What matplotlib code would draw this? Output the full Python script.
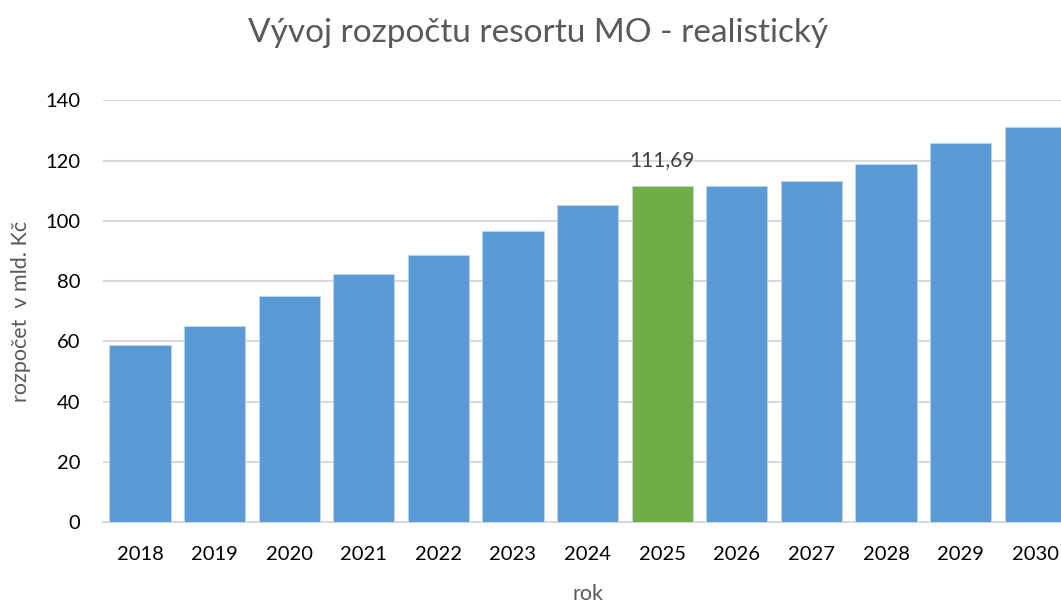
import matplotlib
matplotlib.use("Agg")
import matplotlib.pyplot as plt

years = ["2018", "2019", "2020", "2021", "2022", "2023", "2024",
         "2025", "2026", "2027", "2028", "2029", "2030"]
budget = [58.7, 65.0, 75.1, 82.2, 88.5, 96.5, 105.1,
          111.69, 111.6, 113.2, 119.0, 125.7, 131.0]
highlight_year = "2025"
highlight_label = "111,69"
y_ticks = [0, 20, 40, 60, 80, 100, 120, 140]

plt.rcParams['font.family'] = ['Lato', 'DejaVu Sans']

fig = plt.figure(figsize=(10.61, 6.03), dpi=100)
ax = fig.add_axes([102.7 / 1061, 0.1338, 13 * 74.6 / 1061, 0.700])

colors = ["#70AD47" if y == highlight_year else "#5B9BD5" for y in years]
x = list(range(len(years)))
ax.bar(x, budget, width=0.82, color=colors, edgecolor="#BDD7EE", linewidth=0.6, zorder=3)

ax.set_xlim(-0.5, len(years) - 0.5)
ax.set_ylim(0, 140)
ax.set_yticks(y_ticks)
ax.set_xticks(x)
ax.set_xticklabels(years)
ax.grid(axis="y", color="#D9D9D9", linewidth=1.5, zorder=0)
for s in ["top", "right", "left"]:
    ax.spines[s].set_visible(False)
ax.spines["bottom"].set_color("#D9D9D9")
ax.spines["bottom"].set_linewidth(1.5)
ax.tick_params(axis="both", length=0, labelsize=14.5, colors="#000000")
ax.tick_params(axis="x", pad=17)
ax.tick_params(axis="y", pad=16)

hi = years.index(highlight_year)
ax.text(hi, budget[hi] + 5, highlight_label, ha="center", va="bottom",
        fontsize=15, color="#404040")

ax.set_xlabel("rok", fontsize=15.5, color="#595959", labelpad=15)
ax.set_ylabel("rozpočet  v mld. Kč", fontsize=15.5, color="#595959", labelpad=10)

fig.text(538 / 1061, 1 - 33 / 603, "Vývoj rozpočtu resortu MO - realistický",
         ha="center", va="center", fontsize=24, color="#595959")

fig.savefig("out.png", dpi=100)
